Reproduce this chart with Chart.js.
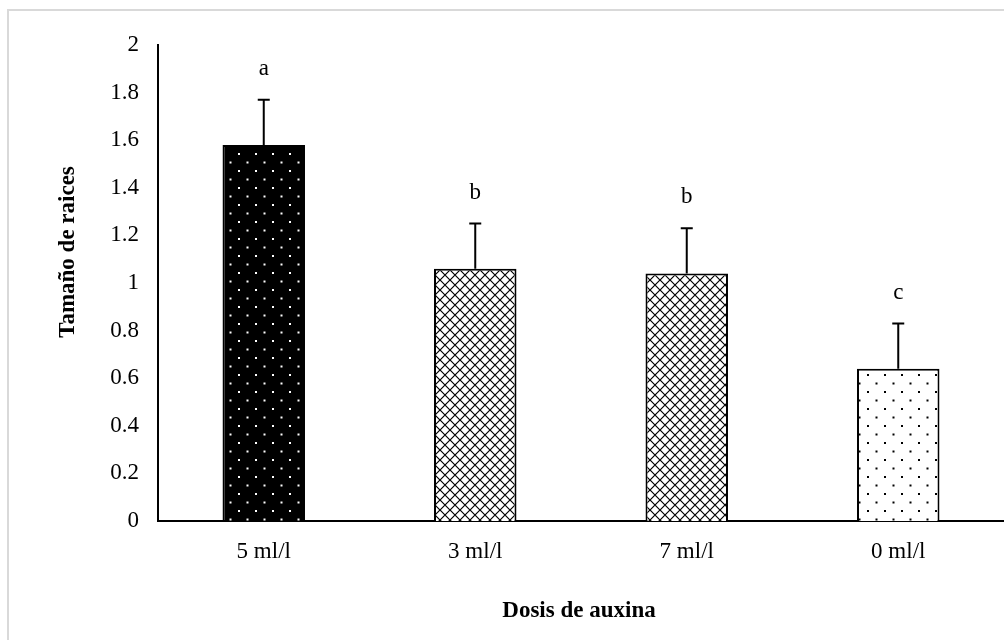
<!DOCTYPE html>
<html>
<head>
<meta charset="utf-8">
<script src="https://cdn.jsdelivr.net/npm/chart.js@4.4.1/dist/chart.umd.min.js"></script>
<style>
    html, body { margin: 0; padding: 0; background: #fff; }
    #wrap { position: relative; width: 1004px; height: 640px; overflow: hidden; }
    #frame { position: absolute; left: 7px; top: 9px; width: 1100px; height: 700px;
             border-top: 2px solid #d9d9d9; border-left: 2px solid #d9d9d9; }
    canvas { position: absolute; left: 0; top: 0; }
</style>
</head>
<body>
<div id="wrap">
    <div id="frame"></div>
    <canvas id="chart" width="1004" height="640"></canvas>
</div>
<script>
const categories = ['5 ml/l', '3 ml/l', '7 ml/l', '0 ml/l'];
const means = [1.58, 1.06, 1.04, 0.64];
const errors = [0.19, 0.19, 0.19, 0.19];
const letters = ['a', 'b', 'b', 'c'];
const yTicks = [0, 0.2, 0.4, 0.6, 0.8, 1, 1.2, 1.4, 1.6, 1.8, 2];

const FONT = '"Liberation Serif", "Times New Roman", serif';

// fill patterns
function dotPattern(bg, dot) {
    const c = document.createElement('canvas');
    c.width = 17; c.height = 17;
    const g = c.getContext('2d');
    g.fillStyle = bg;
    g.fillRect(0, 0, 17, 17);
    g.fillStyle = dot;
    g.fillRect(0, 0, 2, 2);
    g.fillRect(8.5, 8.5, 2, 2);
    return g.createPattern(c, 'repeat');
}

function crossPattern() {
    const c = document.createElement('canvas');
    c.width = 10; c.height = 10;
    const g = c.getContext('2d');
    g.fillStyle = '#fff';
    g.fillRect(0, 0, 10, 10);
    g.strokeStyle = '#000';
    g.lineWidth = 1.2;
    g.beginPath();
    g.moveTo(-1, -1); g.lineTo(11, 11);
    g.moveTo(11, -1); g.lineTo(-1, 11);
    g.stroke();
    return g.createPattern(c, 'repeat');
}

const cross = crossPattern();
const fills = [dotPattern('#000', '#fff'), cross, cross, dotPattern('#fff', '#000')];

// error bars + significance letters + axis titles
const extras = {
    id: 'extras',
    afterDatasetsDraw(chart) {
        const ctx = chart.ctx;
        const meta = chart.getDatasetMeta(0);
        const y = chart.scales.y;
        ctx.save();
        ctx.strokeStyle = '#000';
        ctx.lineWidth = 2;
        meta.data.forEach((bar, i) => {
            const top = y.getPixelForValue(means[i] + errors[i]);
            ctx.beginPath();
            ctx.moveTo(bar.x, bar.y);
            ctx.lineTo(bar.x, top);
            ctx.moveTo(bar.x - 6, top);
            ctx.lineTo(bar.x + 6, top);
            ctx.stroke();
            ctx.fillStyle = '#000';
            ctx.font = '23px ' + FONT;
            ctx.textAlign = 'center';
            ctx.textBaseline = 'middle';
            ctx.fillText(letters[i], bar.x, top - 31);
        });
        ctx.font = 'bold 23px ' + FONT;
        ctx.textAlign = 'center';
        ctx.textBaseline = 'middle';
        ctx.fillText('Dosis de auxina', 579, 611);
        ctx.translate(68, 252);
        ctx.rotate(-Math.PI / 2);
        ctx.fillText('Tamaño de raices', 0, 0);
        ctx.restore();
    }
};

new Chart(document.getElementById('chart'), {
    type: 'bar',
    data: {
        labels: categories,
        datasets: [{
            data: means,
            backgroundColor: fills,
            borderColor: '#000',
            borderWidth: 2,
            barPercentage: 0.39,
            categoryPercentage: 1
        }]
    },
    options: {
        responsive: false,
        animation: false,
        events: [],
        layout: { padding: { top: 45, right: 0, left: 0, bottom: 0 } },
        plugins: { legend: { display: false }, tooltip: { enabled: false } },
        scales: {
            x: {
                grid: { display: false, drawTicks: false },
                border: { color: '#000', width: 2 },
                ticks: { color: '#000', font: { family: FONT, size: 23 }, padding: 17 },
                afterFit(scale) { scale.height = 119; }
            },
            y: {
                min: 0, max: 2,
                afterBuildTicks(scale) { scale.ticks = yTicks.map(v => ({ value: v })); },
                grid: { display: false, drawTicks: false },
                border: { color: '#000', width: 2 },
                ticks: {
                    color: '#000', font: { family: FONT, size: 23 }, padding: 19,
                    callback: v => String(v)
                },
                afterFit(scale) { scale.width = 158; }
            }
        }
    },
    plugins: [extras]
});
</script>
</body>
</html>
